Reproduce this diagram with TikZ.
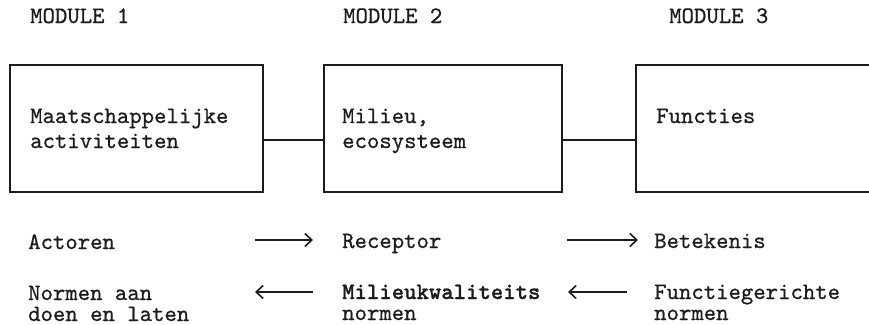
\documentclass[tikz,border=0pt]{standalone}
\usepackage{fontspec}
\newfontfamily\twfont{lmmono10-regular.otf}[FakeBold=0.7]
\newfontfamily\twboldfont{lmmonolt10-bold.otf}[FakeBold=1.0]
\usetikzlibrary{arrows.meta}
\definecolor{ink}{HTML}{1C1C1C}
\tikzset{
  txt/.style={inner sep=0pt, anchor=base west, text=ink, text height=14pt, text depth=3pt,
    font=\twfont\fontsize{23.6}{25}\selectfont},
  boldtxt/.style={txt, font=\twboldfont\fontsize{23.6}{25}\selectfont},
  boxnode/.style={draw=ink, line width=1.6pt, anchor=north west, inner sep=0pt, minimum height=127pt},
  link/.style={draw=ink, line width=1.6pt},
  arr/.style={draw=ink, line width=1.8pt, -{Straight Barb[length=7pt,width=13pt,line width=1.6pt]}},
}
\begin{document}
\begin{tikzpicture}[x=1pt,y=-1pt]
\useasboundingbox (0,0) rectangle (869,324);
\clip (0,0) rectangle (869,324);
% module headings
\node[txt] (m1) at (30,23) {MODULE 1};
\node[txt] (m2) at (343,23) {MODULE 2};
\node[txt] (m3) at (669,23) {MODULE 3};
% boxes
\node[boxnode, minimum width=253pt] (b1) at (9,64) {};
\node[boxnode, minimum width=238pt] (b2) at (323,64) {};
\node[boxnode, minimum width=250pt] (b3) at (635,64) {};
% box texts
\node[txt] (t1a) at (30,123) {Maatschappelijke};
\node[txt] (t1b) at (30,148) {activiteiten};
\node[txt] (t2a) at (342,123) {Milieu,};
\node[txt] (t2b) at (342,148) {ecosysteem};
\node[txt] (t3a) at (656,123) {Functies};
% links between boxes
\draw[link] ([yshift=-11.5pt]b1.east) -- ([yshift=-11.5pt]b2.west);
\draw[link] ([yshift=-11.5pt]b2.east) -- ([yshift=-11.5pt]b3.west);
% lower rows
\node[txt] (act) at (28,249) {Actoren};
\node[txt] (rec) at (342,248) {Receptor};
\node[txt] (bet) at (654,248) {Betekenis};
\node[txt] (nor1) at (28,300) {Normen aan};
\node[txt] (nor2) at (28,321) {doen en laten};
\node[boldtxt] (mil1) at (342,299) {Milieukwaliteits};
\node[txt] (mil2) at (342,320) {normen};
\node[txt] (fun1) at (654,299) {Functiegerichte};
\node[txt] (fun2) at (654,320) {normen};
% arrows
\coordinate (r1a) at (255,240);
\coordinate (r1b) at (313,240);
\coordinate (r1c) at (567,240);
\coordinate (r1d) at (638,240);
\coordinate (r2a) at (313,292);
\coordinate (r2b) at (255,292);
\coordinate (r2c) at (627,292);
\coordinate (r2d) at (568,292);
\draw[arr] (r1a) -- (r1b);
\draw[arr] (r1c) -- (r1d);
\draw[arr] (r2a) -- (r2b);
\draw[arr] (r2c) -- (r2d);
\end{tikzpicture}
\end{document}
